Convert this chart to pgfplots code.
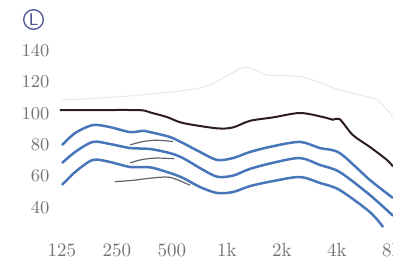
\documentclass[border=0pt]{standalone}
\usepackage{pgfplots}
\pgfplotsset{compat=1.18}
\definecolor{bluel}{RGB}{72,118,186}
\definecolor{blackl}{RGB}{45,30,28}
\definecolor{grayl}{RGB}{95,100,110}
\definecolor{ticklab}{RGB}{115,115,115}
\definecolor{circl}{RGB}{75,85,150}
\begin{document}
\begin{tikzpicture}
\begin{axis}[
  at={(28.25pt,12.25pt)}, anchor=south west,
  scale only axis, width=168.25pt, height=97.8pt,
  xmin=-0.1, xmax=6.02, ymin=20, ymax=145,
  axis line style={draw=none}, tick style={draw=none},
  xtick={0,1,2,3,4,5,6},
  xticklabels={125,250,500,1k,2k,4k,8k},
  ytick={40,60,80,100,120,140},
  ticklabel style={font=\fontsize{9.5}{11}\selectfont, text=ticklab},
  xtick style={draw=none},
  xticklabel style={yshift=1pt},
  clip=false,
]
\addplot[gray!18, line width=0.5pt, smooth] coordinates {
(0,108.5) (1.2,111) (2.51,116.2) (3.0,124) (3.36,129.6) (3.73,124.5) (4.38,123.2) (5.05,114.9) (5.73,108.5) (6.02,97)};
\addplot[blackl, line width=1pt, smooth, tension=0.5] coordinates {
(-0.04,102.1) (0.69,102.1) (1.42,102.0) (1.6,100.6) (1.91,97.6) (2.2,93.8) (2.82,90.4) (3.11,91.0) (3.42,95.2) (3.84,97.4) (4.33,100.2) (4.75,97.6) (4.93,95.9) (5.05,96.3) (5.29,86.1) (5.6,78.5) (5.91,70.2) (6.02,66)};
\addplot[bluel, line width=1.25pt, smooth, tension=0.5] coordinates {
(0,79.7) (0.24,87.4) (0.56,92.5) (0.87,91.2) (1.24,88.0) (1.47,88.8) (1.6,88.0) (1.96,84.9) (2.2,81.0) (2.51,75.3) (2.82,70.2) (3.11,71.4) (3.42,75.3) (3.84,79.0) (4.33,81.7) (4.69,77.8) (5.05,74.6) (5.6,57.4) (6.02,45.9)};
\addplot[bluel, line width=1.25pt, smooth, tension=0.5] coordinates {
(0,68.2) (0.24,75.3) (0.56,81.7) (0.87,80.4) (1.24,77.8) (1.6,77.2) (1.96,74.6) (2.2,71.4) (2.51,65.0) (2.82,59.5) (3.11,60.2) (3.42,64.5) (3.84,68.4) (4.33,71.4) (4.69,67.0) (5.05,62.5) (5.6,47.8) (6.02,34.5)};
\addplot[bluel, line width=1.25pt, smooth, tension=0.5] coordinates {
(0,54.2) (0.24,62.5) (0.56,70.2) (0.87,68.9) (1.24,65.7) (1.6,65.5) (1.96,61.9) (2.2,58.7) (2.51,52.9) (2.82,49.1) (3.11,49.7) (3.42,53.5) (3.84,56.7) (4.33,59.3) (4.69,55.5) (5.05,51.0) (5.6,36.9) (5.84,27.3)};
\addplot[grayl, line width=0.6pt, smooth] coordinates {
(1.24,79.8) (1.45,81.8) (1.7,82.8) (2.02,82.0)};
\addplot[grayl, line width=0.6pt, smooth] coordinates {
(1.24,68.4) (1.45,70.4) (1.7,71.4) (2.04,71.0)};
\addplot[grayl, line width=0.6pt, smooth] coordinates {
(0.96,56.3) (1.3,57.2) (1.6,58.5) (1.96,59.1) (2.33,54.0)};
\end{axis}
\draw[circl, line width=0.65pt] (16.75pt,121.75pt) circle[radius=4.9pt];
\node[text=circl, inner sep=0pt, font=\sffamily\fontsize{8.5}{9}\selectfont] at (16.85pt,121.75pt) {L};
\pgfresetboundingbox
\useasboundingbox (0,0) rectangle (196.5pt,131.5pt);
\end{tikzpicture}
\end{document}
